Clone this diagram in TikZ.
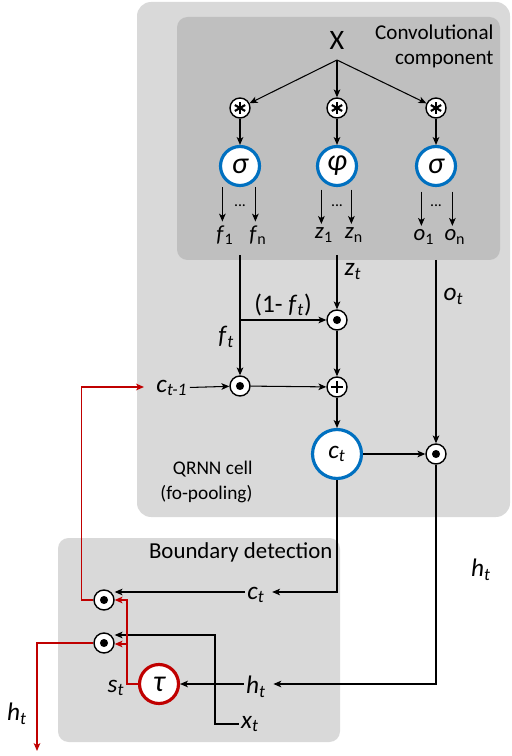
\documentclass[tikz,border=0pt]{standalone}
\usepackage{fontspec}
\setmainfont{Carlito}
\usetikzlibrary{arrows.meta, positioning}
\definecolor{cellgray}{RGB}{217,217,217}
\definecolor{convgray}{RGB}{191,191,191}
\definecolor{gateblue}{RGB}{0,112,192}
\definecolor{bdred}{RGB}{192,0,0}
\newcommand{\vsub}[2]{\textit{#1}\textsubscript{\textit{#2}}}
\newcommand{\vidx}[2]{\textit{#1}\textsubscript{#2}}

\begin{document}
\begin{tikzpicture}[x=0.02cm, y=-0.02cm, line width=0.6pt,
    >={Stealth[length=4.5pt, width=3.8pt, inset=1.2pt]},
    op/.style={circle, draw, fill=white, line width=0.8pt, minimum size=0.4cm, inner sep=0pt},
    dotop/.style={op, path picture={\fill[black] (path picture bounding box.center) circle (2.3pt);}},
    plusop/.style={op, path picture={
        \draw[black, line width=1.2pt] ([xshift=-3.5pt]path picture bounding box.center) -- ([xshift=3.5pt]path picture bounding box.center);
        \draw[black, line width=1.2pt] ([yshift=-3.5pt]path picture bounding box.center) -- ([yshift=3.5pt]path picture bounding box.center);}},
    starop/.style={op, path picture={
        \foreach \a in {90,30,-30}
          \draw[black, line width=1.2pt] ([shift={(\a:3.4pt)}]path picture bounding box.center) -- ([shift={(\a+180:3.4pt)}]path picture bounding box.center);}},
    gate/.style={circle, draw=gateblue, line width=1.8pt, fill=white, minimum size=0.78cm, inner sep=0pt, font=\LARGE\itshape},
    var/.style={font=\Large, inner sep=1pt},
    idx/.style={font=\fontsize{13}{15}\selectfont, inner sep=1pt},
    title/.style={align=right, inner sep=0pt}]

  \useasboundingbox (0,0) rectangle (511,756);

  % boxes
  \fill[cellgray, rounded corners=8pt] (137,2) rectangle (510,517);
  \fill[convgray, rounded corners=6pt] (177,17) rectangle (500,260);
  \fill[cellgray, rounded corners=6pt] (58,538) rectangle (340,742);

  \node[title, font=\fontsize{12}{14.5}\selectfont, anchor=north east] (convtitle) at (494,24) {Convolutional\\component};
  \node[title, font=\fontsize{11}{14}\selectfont, anchor=east] (celltitle) at (253,482) {QRNN cell\\(fo-pooling)};
  \node[title, font=\fontsize{13}{15}\selectfont, anchor=east] (bdtitle) at (333,552) {Boundary detection};

  % convolutional component
  \node[font=\fontsize{16}{18}\selectfont] (x) at (337,40) {X};
  \coordinate (xs) at (337,60);
  \node[starop] (sf) at (240,108) {};
  \node[starop] (sz) at (337,108) {};
  \node[starop] (so) at (436,108) {};
  \draw[->] (xs) -- (sf);
  \draw[->] (xs) -- (sz);
  \draw[->] (xs) -- (so);

  \node[gate] (gf) at (240,166) {σ};
  \node[gate] (gz) at (337,166) {φ};
  \node[gate] (go) at (436,166) {σ};
  \draw[->] (sf) -- (gf);
  \draw[->] (sz) -- (gz);
  \draw[->] (so) -- (go);

  \node[idx] (f1) at (225,235) {\vidx{f}{1}};
  \node[idx] (fn) at (258,235) {\vidx{f}{n}};
  \node[idx] (z1) at (324,235) {\vidx{z}{1}};
  \node[idx] (zn) at (354,235) {\vidx{z}{n}};
  \node[idx] (o1) at (424,237) {\vidx{o}{1}};
  \node[idx] (on) at (455,237) {\vidx{o}{n}};
  \foreach \n in {f1,fn,z1,zn,o1,on}
    \draw[->] ([xshift=-1.5pt, yshift=0.72cm]\n.north) -- ([xshift=-1.5pt, yshift=1pt]\n.north);
  \foreach \n in {gf,gz,go}
    \node[font=\small] at ([yshift=-0.8cm]\n.center) {...};

  % QRNN cell
  \coordinate (fout) at (240,255);
  \coordinate (zout) at (337,255);
  \coordinate (oout) at (436,260);
  \coordinate (fbr) at (240,320);
  \node[dotop] (mz) at (337,320) {};
  \node[dotop] (mf) at (240,386) {};
  \node[plusop] (add) at (337,387) {};
  \node[circle, draw=gateblue, line width=1.8pt, fill=white, minimum size=0.98cm, inner sep=0pt, font=\Large] (ct) at (337,454) {\vsub{c}{t}};
  \node[dotop] (mo) at (436,454) {};
  \node[var] (cprev) at (172,388) {\vsub{c}{t-1}};

  \draw[->] (fout) -- (mf) node[var, pos=0.68, left=2pt] {\vsub{f}{t}};
  \draw[->] (fbr) -- (mz) node[var, midway, above=1pt] {(1- \vsub{f}{t})};
  \draw[->] (zout) -- (mz) node[var, pos=0.3, right=3pt] {\vsub{z}{t}};
  \draw[->] (oout) -- (mo) node[var, pos=0.2, right=3pt] {\vsub{o}{t}};
  \draw[->] (cprev) -- (mf);
  \draw[->] (mf) -- (add);
  \draw[->] (mz) -- (add);
  \draw[->] (add) -- (ct);
  \draw[->] (ct) -- (mo);

  % boundary detection
  \node[dotop] (bm1) at (104,600) {};
  \node[dotop] (bm2) at (104,643) {};
  \node[circle, draw=bdred, line width=1.8pt, fill=white, minimum size=0.78cm, inner sep=0pt, font=\LARGE\itshape] (tau) at (159,684) {τ};
  \node[var] (ct2) at (256,595) {\vsub{c}{t}};
  \node[var] (ht2) at (256,687) {\vsub{h}{t}};
  \node[var] (xt) at (250,724) {\vsub{x}{t}};
  \node[var] (st) at (116,688) {\vsub{s}{t}};
  \node[var] (htr) at (481,570) {\vsub{h}{t}};
  \node[var] (hout) at (17,714) {\vsub{h}{t}};
  \coordinate (xturn) at (215,635);
  \coordinate (redtop) at (127,600);
  \coordinate (redmid) at (127,644);
  \coordinate (redin) at (144,387);
  \coordinate (hend) at (37,751);

  \draw[->] (ct) |- ([xshift=3pt]ct2.east |- 0,592);
  \draw[->] (ct2.west |- 0,592) -- (bm1.east |- 0,592);
  \draw[->] (mo) |- ([xshift=3pt]ht2.east |- tau);
  \draw[->] (ht2.west |- tau) -- (tau);
  \draw[->] (xt.west) -| (xturn) -- (bm2.east |- xturn);

  \draw[bdred, line width=0.7pt, ->] (tau.west) -| (redtop) -- (bm1.east);
  \draw[bdred, line width=0.7pt, ->] (redmid) -- (bm2.east |- redmid);
  \draw[bdred, line width=0.7pt, ->] (bm1.west) -- ++(-12,0) |- (redin);
  \draw[bdred, line width=0.7pt, ->] (bm2.west) -| (hend);
\end{tikzpicture}
\end{document}
